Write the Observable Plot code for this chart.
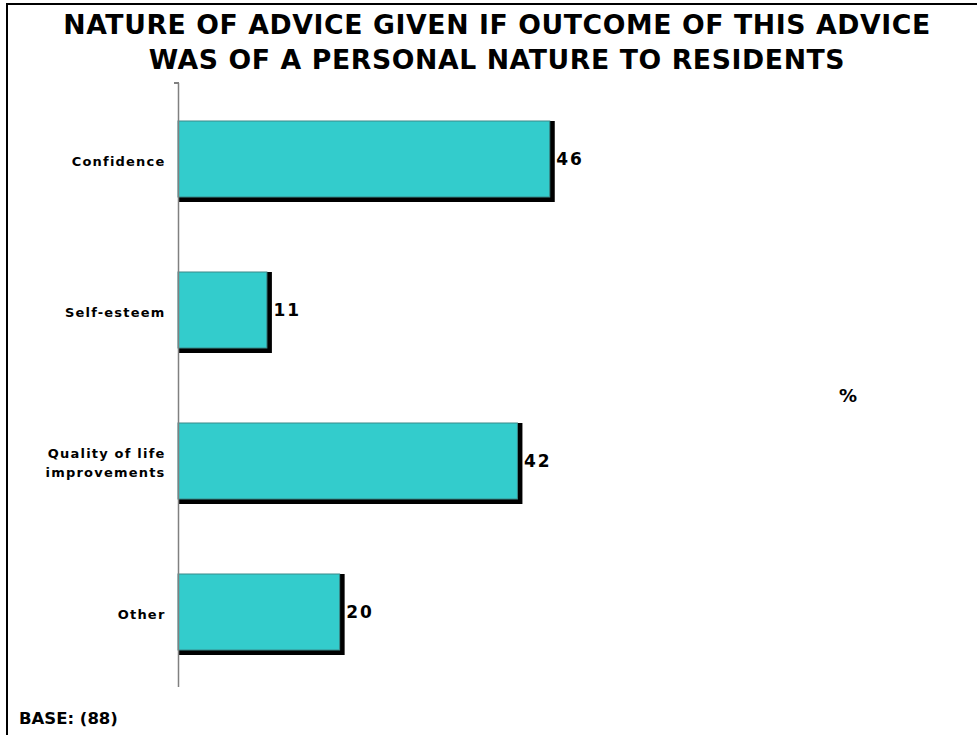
<!DOCTYPE html>
<html>
<head>
<meta charset="utf-8">
<script src="https://cdn.jsdelivr.net/npm/d3@7"></script>
<script src="https://cdn.jsdelivr.net/npm/@observablehq/plot@0.6"></script>
<style>
  html, body { margin: 0; padding: 0; background: #fff; }
  #wrap { position: relative; width: 977px; height: 735px; overflow: hidden; font-family: "DejaVu Sans", Verdana, sans-serif; }
  #border { position: absolute; left: 6px; top: 3px; width: 980px; height: 740px; border-left: 2px solid #000; border-top: 2px solid #000; box-sizing: border-box; }
  #title { position: absolute; left: 8px; width: 978px; top: 7px; text-align: center; font-weight: bold; font-size: 26.7px; line-height: 35px; letter-spacing: 0.6px; color: #000; }
  #pct { position: absolute; left: 839px; top: 385px; font-weight: bold; font-size: 18px; color: #000; }
  #base { position: absolute; left: 19px; top: 709px; font-weight: bold; font-size: 16.5px; color: #000; }
  #chart { position: absolute; left: 0; top: 0; }
  #axtick { position: absolute; left: 174px; top: 82px; width: 5px; height: 1.5px; background: #808080; }
  g[aria-label="y-axis tick label"] text { letter-spacing: 1.2px; }
  g[aria-label="text"] text { letter-spacing: 2px; }
</style>
</head>
<body>
<div id="wrap">
  <div id="chart"></div>
  <div id="axtick"></div>
  <div id="border"></div>
  <div id="title">NATURE OF ADVICE GIVEN IF OUTCOME OF THIS ADVICE<br>WAS OF A PERSONAL NATURE TO RESIDENTS</div>
  <div id="pct">%</div>
  <div id="base">BASE: (88)</div>
</div>
<script>
const categories = ["Confidence", "Self-esteem", "Quality of life\nimprovements", "Other"];
const values = [46, 11, 42, 20];

const data = categories.map((c, i) => ({category: c, value: values[i]}));

const chart = Plot.plot({
  width: 977,
  height: 735,
  marginLeft: 178,
  marginRight: 7,
  marginTop: 83,
  marginBottom: 48,
  style: {fontFamily: "DejaVu Sans, Verdana, sans-serif", background: "transparent", color: "#000"},
  x: {domain: [0, 98], axis: null},
  y: {domain: categories, paddingInner: 0.5, paddingOuter: 0.25, label: null},
  marks: [
    Plot.rectX(data, {y: "category", x: "value", fill: "#000", insetRight: -5, insetBottom: -5}),
    Plot.rectX(data, {y: "category", x: "value", fill: "#33CCCC", stroke: "#3a8a8a", strokeWidth: 1}),
    Plot.text(data, {y: "category", x: "value", text: d => String(d.value), textAnchor: "start", dx: 6, fontSize: 17, fontWeight: "bold", fill: "#000"}),
    Plot.axisY({tickSize: 0, tickPadding: 13, fontSize: 13, fontWeight: "bold", lineHeight: 1.45, fill: "#000"}),
    Plot.ruleX([0], {stroke: "#808080", strokeWidth: 1.5}),
  ]
});
document.getElementById("chart").appendChild(chart);
</script>
</body>
</html>
